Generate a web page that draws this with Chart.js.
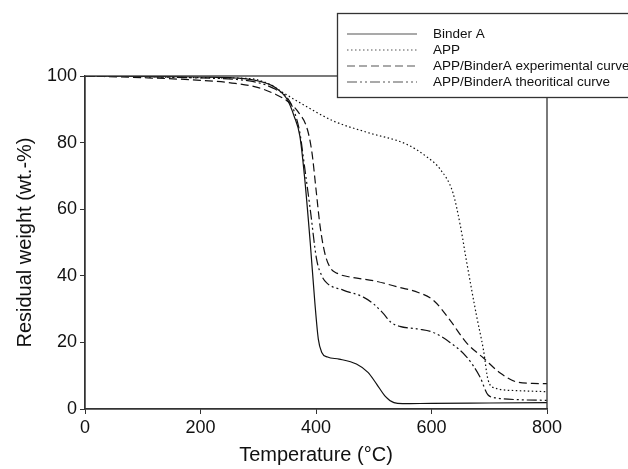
<!DOCTYPE html>
<html>
<head>
<meta charset="utf-8">
<script src="https://cdn.jsdelivr.net/npm/chart.js@4.4.1/dist/chart.umd.min.js"></script>
<style>
  html, body { margin: 0; padding: 0; background: #fff; }
  #wrap { width: 628px; height: 469px; }
</style>
</head>
<body>
<div id="wrap"><canvas id="tga"></canvas></div>
<script>
// Binder A
const binderTemp = [0, 100, 200, 260, 300, 330, 350, 362, 372, 380, 390, 398, 404, 410, 420, 440, 470, 490, 505, 520, 535, 550, 600, 700, 800];
const binderWeight = [100, 99.9, 99.7, 99.4, 98.5, 96.5, 93, 88, 82, 70, 50, 32, 21, 17, 15.6, 15, 13.5, 11, 7.5, 3.8, 1.9, 1.6, 1.7, 1.8, 1.9];

// APP
const appTemp = [0, 100, 200, 286, 320, 343, 372, 430, 490, 557, 592, 615, 637, 650, 661, 678, 690, 698, 710, 750, 800];
const appWeight = [100, 99.8, 99.5, 99.2, 97.5, 95, 92, 86.5, 83, 79.5, 75.7, 72, 65, 55, 44, 28, 17.7, 8.7, 6.3, 5.5, 5.2];

// APP/BinderA experimental
const expTemp = [0, 100, 200, 260, 300, 330, 350, 370, 385, 393, 400, 407, 415, 424, 436, 460, 500, 545, 577, 603, 632, 661, 690, 719, 748, 775, 800];
const expWeight = [100, 99.5, 98.7, 97.8, 96.5, 94.5, 92.5, 89, 84, 77, 66, 55, 47, 42.6, 40.8, 39.6, 38.5, 36.5, 35, 32.7, 26.7, 19.8, 15.3, 10.8, 8.1, 7.7, 7.6];

// APP/BinderA theoretical
const theoTemp = [0, 100, 200, 260, 300, 330, 350, 362, 372, 380, 390, 401, 410, 419, 447, 482, 500, 516, 530, 545, 577, 603, 632, 661, 684, 698, 713, 750, 800];
const theoWeight = [100, 99.8, 99.4, 99, 98, 96, 93.5, 89.5, 83, 73, 60, 45, 40, 37.8, 35.7, 33.6, 31.5, 28.8, 26, 24.8, 24, 23, 20, 15.6, 9.6, 4.2, 3.3, 2.8, 2.6];

const seriesLabels = ['Binder A', 'APP', 'APP/BinderA experimental curve', 'APP/BinderA theoritical curve'];
const xTicks = [0, 200, 400, 600, 800];
const yTicks = [0, 20, 40, 60, 80, 100];

const FONT = '"Liberation Sans", Arial, sans-serif';
const INK = '#111';

function toPoints(xs, ys) {
    return xs.map((x, i) => ({ x: x, y: ys[i] }));
}

function makeSet(label, xs, ys, dash) {
    return {
        label: label,
        data: toPoints(xs, ys),
        borderColor: INK,
        borderWidth: 1.2,
        borderDash: dash,
        pointRadius: 0,
        fill: false,
        cubicInterpolationMode: 'monotone'
    };
}

// top/right frame lines
const framePlugin = {
    id: 'frame',
    afterDatasetsDraw(chart) {
        const a = chart.chartArea;
        const c = chart.ctx;
        c.save();
        c.strokeStyle = '#333';
        c.lineWidth = 1.3;
        c.strokeRect(a.left, a.top, a.right - a.left, a.bottom - a.top);
        c.restore();
    }
};

// boxed legend in the top right corner
const boxLegend = {
    id: 'boxLegend',
    afterDraw(chart) {
        const c = chart.ctx;
        c.save();
        c.fillStyle = '#fff';
        c.fillRect(337, 13, 320, 84);
        c.strokeStyle = '#333';
        c.lineWidth = 1.3;
        c.strokeRect(337.5, 13.5, 320, 84);
        c.font = '13.5px ' + FONT;
        c.textBaseline = 'middle';
        chart.data.datasets.forEach((ds, i) => {
            const y = 34 + i * 16;
            c.strokeStyle = '#555';
            c.lineWidth = 1.2;
            c.setLineDash(ds.borderDash || []);
            c.beginPath();
            c.moveTo(347, y);
            c.lineTo(417, y);
            c.stroke();
            c.setLineDash([]);
            c.fillStyle = '#111';
            c.fillText(ds.label, 433, y);
        });
        c.restore();
    }
};

const ctx = document.getElementById('tga').getContext('2d');
new Chart(ctx, {
    type: 'line',
    data: {
        datasets: [
            makeSet(seriesLabels[0], binderTemp, binderWeight, []),
            makeSet(seriesLabels[1], appTemp, appWeight, [1.5, 2.5]),
            makeSet(seriesLabels[2], expTemp, expWeight, [8, 4]),
            makeSet(seriesLabels[3], theoTemp, theoWeight, [10, 3, 2, 3, 2, 3])
        ]
    },
    options: {
        responsive: true,
        maintainAspectRatio: false,
        animation: false,
        layout: { padding: { left: 0, top: 76, right: 81, bottom: 0 } },
        plugins: {
            legend: { display: false },
            tooltip: { enabled: false }
        },
        scales: {
            x: {
                type: 'linear',
                min: 0,
                max: 800,
                afterFit(scale) { scale.height = 60; },
                afterBuildTicks(scale) { scale.ticks = xTicks.map(v => ({ value: v })); },
                grid: { drawOnChartArea: false, drawTicks: true, tickLength: 5, color: '#333' },
                border: { color: '#333', width: 1.3 },
                ticks: { color: '#111', font: { family: FONT, size: 18 }, padding: 3, maxRotation: 0 },
                title: {
                    display: true,
                    text: 'Temperature (°C)',
                    color: '#111',
                    font: { family: FONT, size: 20 },
                    padding: { top: 0, bottom: 2 }
                }
            },
            y: {
                min: 0,
                max: 100,
                afterFit(scale) { scale.width = 85; },
                afterBuildTicks(scale) { scale.ticks = yTicks.map(v => ({ value: v })); },
                grid: { drawOnChartArea: false, drawTicks: true, tickLength: 5, color: '#333' },
                border: { color: '#333', width: 1.3 },
                ticks: { color: '#111', font: { family: FONT, size: 18 }, padding: 3 },
                title: {
                    display: true,
                    text: 'Residual weight (wt.-%)',
                    color: '#111',
                    font: { family: FONT, size: 20 },
                    padding: { top: 13, bottom: 0 }
                }
            }
        }
    },
    plugins: [framePlugin, boxLegend]
});
</script>
</body>
</html>
